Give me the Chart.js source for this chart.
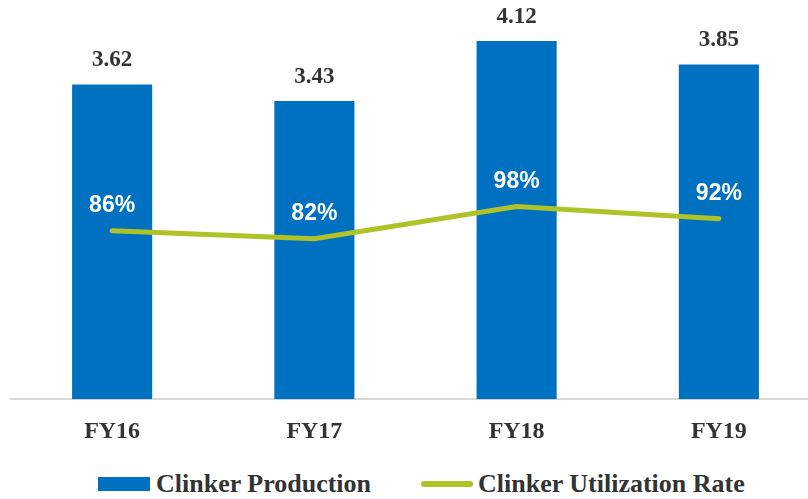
<!DOCTYPE html>
<html lang="en">
<head>
<meta charset="UTF-8">
<title>Clinker Production</title>
<script src="https://cdn.jsdelivr.net/npm/chart.js"></script>
<style>
  body { margin: 0; background: #fff; overflow: hidden; width: 808px; height: 499px; position: relative; }
  #wrap { position: absolute; left: 0; top: 0; width: 820px; height: 456px; }
  #legend { position: absolute; top: 469px; left: 98px; height: 30px; line-height: 30px; font-family: "Liberation Serif", serif; font-weight: bold; font-size: 26px; color: #333; display: flex; align-items: center; white-space: nowrap; }
  .sw-bar { display: inline-block; width: 52px; height: 14px; background: #0070C0; margin-right: 6px; }
  .sw-line { display: inline-block; width: 52px; height: 6px; border-radius: 3px; background: #AFC226; margin-left: 50px; margin-right: 5px; }
</style>
</head>
<body>
<div id="wrap"><canvas id="chart" width="820" height="456"></canvas></div>
<div id="legend">
  <span class="sw-bar"></span>Clinker Production
  <span class="sw-line"></span>Clinker Utilization Rate
</div>
<script>
const years = ["FY16", "FY17", "FY18", "FY19"];
const production = [3.62, 3.43, 4.12, 3.85];
const utilization = [86, 82, 98, 92];

// value labels: serif numbers above the bars, white percentages above the line points
const valueLabels = {
  id: 'valueLabels',
  afterDatasetsDraw(chart) {
    const ctx = chart.ctx;
    ctx.save();
    ctx.textAlign = 'center';
    ctx.textBaseline = 'middle';
    chart.getDatasetMeta(1).data.forEach((bar, i) => {
      ctx.font = 'bold 23px "Liberation Serif", serif';
      ctx.fillStyle = '#333';
      ctx.fillText(production[i].toFixed(2), bar.x, bar.y - 24);
    });
    chart.getDatasetMeta(0).data.forEach((pt, i) => {
      ctx.font = 'bold 23px "Liberation Sans", Arial, sans-serif';
      ctx.fillStyle = '#fff';
      ctx.fillText(utilization[i] + '%', pt.x, pt.y - 25);
    });
    ctx.restore();
  }
};

new Chart(document.getElementById('chart'), {
  type: 'bar',
  data: {
    labels: years,
    datasets: [
      { type: 'line', label: 'Clinker Utilization Rate', data: utilization, yAxisID: 'y1',
        borderColor: '#AFC226', borderWidth: 5, borderCapStyle: 'round', pointRadius: 0, tension: 0, order: 0 },
      { label: 'Clinker Production', data: production, backgroundColor: '#0070C0', yAxisID: 'y',
        categoryPercentage: 1, barPercentage: 0.396, order: 1 }
    ]
  },
  options: {
    responsive: false,
    animation: false,
    layout: { padding: { left: 11, right: 0, top: 8, bottom: 0 } },
    plugins: { legend: { display: false }, tooltip: { enabled: false } },
    scales: {
      x: {
        grid: { display: false },
        border: { color: '#d9d9d9', width: 2 },
        ticks: { font: { family: '"Liberation Serif", serif', weight: 'bold', size: 24 }, color: '#333', padding: 10 }
      },
      y: { display: false, min: 0, max: 4.5 },
      y1: { display: false, min: 2, max: 197 }
    }
  },
  plugins: [valueLabels]
});
</script>
</body>
</html>
